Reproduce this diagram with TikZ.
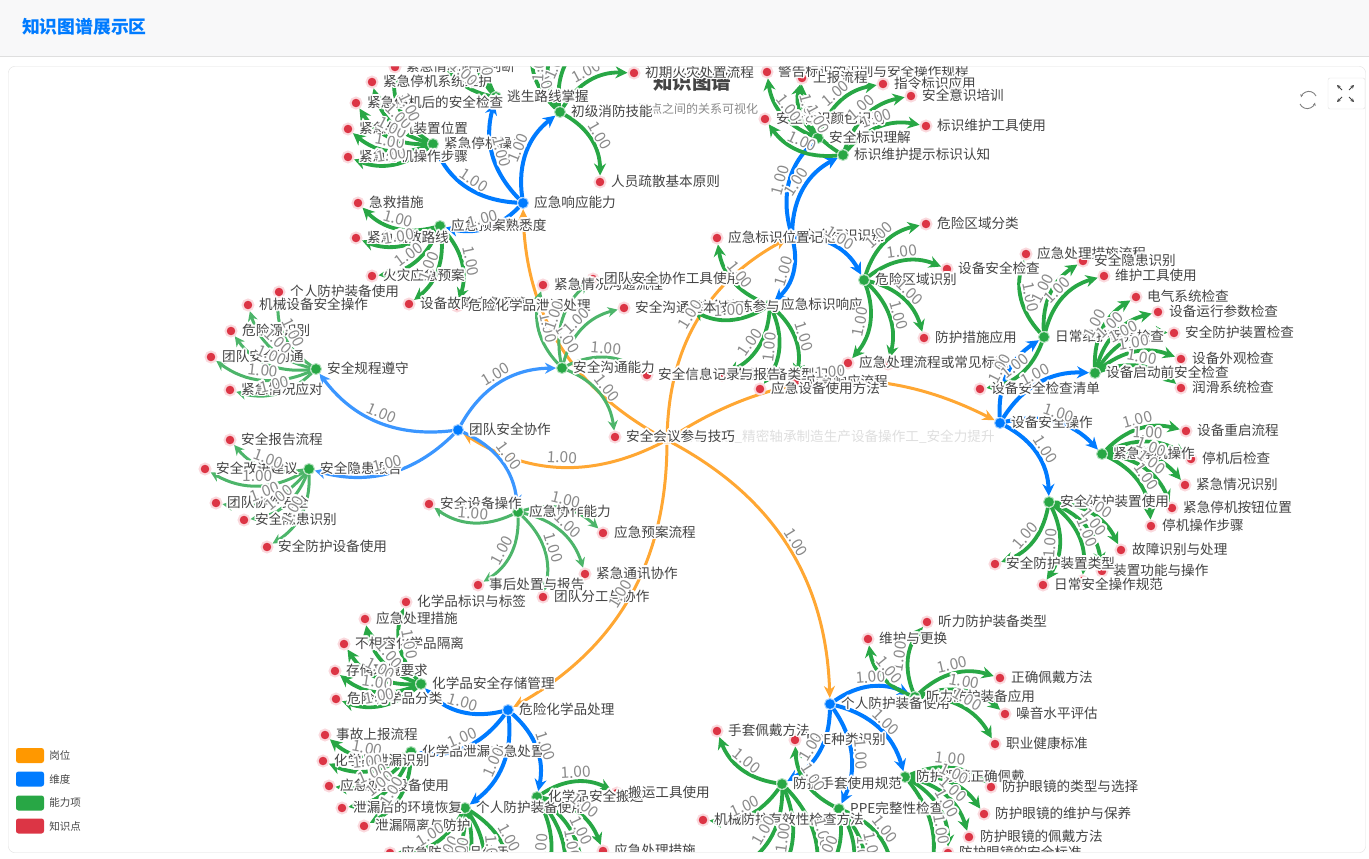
\documentclass[tikz,border=0pt]{standalone}
\usepackage{fontspec}
\usepackage[copies]{contour}
\setmainfont{Noto Sans CJK SC}
\usetikzlibrary{arrows.meta,positioning}
\contourlength{1.6pt}
\contournumber{16}
\definecolor{rootorange}{HTML}{FFA733}
\definecolor{legendorange}{HTML}{FF9800}
\definecolor{dimblue}{HTML}{007BFF}
\definecolor{teamblue}{HTML}{3B96FF}
\definecolor{abilitygreen}{HTML}{28A745}
\definecolor{teamgreen}{HTML}{4DB56A}
\definecolor{pointred}{HTML}{DC3545}
\definecolor{pointglow}{HTML}{FAD9DD}
\definecolor{labelgray}{HTML}{444444}
\definecolor{weightgray}{HTML}{8A8A8A}
\definecolor{headgray}{HTML}{F8F8F9}
\definecolor{bordergray}{HTML}{DFDFDF}
\pgfdeclarelayer{links}
\pgfsetlayers{links,main}
\tikzset{
  rootdot/.style={circle,fill=rootorange,opacity=.25,minimum size=10pt,inner sep=0pt},
  dimdot/.style={circle,fill=dimblue,minimum size=11pt,inner sep=0pt,draw=dimblue!35,line width=1pt},
  abilitydot/.style={circle,fill=abilitygreen,minimum size=11pt,inner sep=0pt,draw=abilitygreen!35,line width=1pt},
  pointdot/.style={circle,fill=pointred,minimum size=11pt,inner sep=0pt,draw=pointglow,line width=2pt},
  dottext/.style={text=labelgray,inner sep=0pt,font=\fontsize{13.6}{14}\selectfont,anchor=west},
  weight/.style={text=weightgray,inner sep=0pt,font=\fontsize{15.5}{16}\selectfont,midway,sloped,above=2pt},
  rootlink/.style={draw=rootorange,line width=3pt,-{Stealth[length=12pt,width=11pt]}},
  dimlink/.style={draw=dimblue,line width=4pt,-{Stealth[length=12pt,width=12pt]}},
  teamdimlink/.style={draw=teamblue,line width=3.2pt,-{Stealth[length=11pt,width=11pt]}},
  abilitylink/.style={draw=abilitygreen,line width=3.8pt,-{Stealth[length=12pt,width=12pt]}},
  teamlink/.style={draw=teamgreen,line width=3pt,-{Stealth[length=10pt,width=10pt]}},
  swatch/.style={rounded corners=2.5pt,minimum width=28pt,minimum height=15pt,inner sep=0pt},
  legendtext/.style={text=labelgray,font=\fontsize{10.5}{11}\selectfont,anchor=west,inner sep=0pt}
}
\newcommand{\drawlinks}[2]{%
  \foreach \src/\tgt in {#2}{%
    \begin{pgfonlayer}{links}
      \draw[#1] (\src) to[bend left=30] (\tgt);
    \end{pgfonlayer}
    \path (\src) to[bend left=30] node[weight]{\contour{white}{1.00}} (\tgt);
  }%
}
% dimensions
\def\dimlist{
  safeSign/792/236/安全标识识别,
  emgResp/523/203/应急响应能力,
  teamSafe/458/430/团队安全协作,
  devOp/1000/423/设备安全操作,
  chem/508/710/危险化学品处理,
  ppeUse/830/704/个人防护装备使用}
% ability items
\def\abilitylist{
  stopOp/433/144/紧急停机操作,
  escape/496/97/逃生路线掌握,
  fireSkill/560/112/初级消防技能,
  planKnow/440/226/应急预案熟悉度,
  ruleKeep/316/369/安全规程遵守,
  hazReport/309/469/安全隐患报告,
  coop/518/512/应急协作能力,
  comm/562/368/安全沟通能力,
  signRead/818/138/安全标识理解,
  signKeep/843/155/标识维护提示标识认知,
  zoneId/864/280/危险区域识别,
  signResp/770/305/应急标识响应,
  dailyCare/1044/337/日常维护保养检查,
  startCheck/1095/373/设备启动前安全检查,
  devStop/1102/454/紧急停机操作,
  guardUse/1049/502/安全防护装置使用,
  chemStore/421/684/化学品安全存储管理,
  chemLeak/411/752/化学品泄漏应急处置,
  chemPpe/465/808/个人防护装备使用,
  chemMove/537/797/化学品安全搬运,
  hearPpe/915/697/听力防护装备应用,
  glove/782/784/防护手套使用规范,
  ppeCheck/839/809/PPE完整性检查,
  goggle/905/777/防护眼镜正确佩戴}
% knowledge points
\def\pointlist{
  stopA/348/157/紧急停机操作步骤,
  stopB/348/129/紧急停机装置位置,
  stopC/356/103/紧急停机后的安全检查,
  stopD/372/82/紧急停机系统维护,
  stopE/395/67/紧急情况停机判断,
  fireA/634/73/初期火灾处置流程,
  fireB/600/182/人员疏散基本原则,
  planA/358/203/急救措施,
  planB/356/238/紧急疏散路线,
  planC/372/276/火灾应急预案,
  planD/409/304/设备故障应急预案,
  planE/457/306/危险化学品泄漏处理,
  ruleA/279/292/个人防护装备使用,
  ruleB/248/305/机械设备安全操作,
  ruleC/231/331/危险源识别,
  ruleD/211/357/团队安全沟通,
  ruleE/230/390/紧急情况应对,
  hazA/230/440/安全报告流程,
  hazB/205/469/安全改进建议,
  hazC/216/503/团队协作安全,
  hazD/244/520/安全隐患识别,
  hazE/267/547/安全防护设备使用,
  coopA/429/504/安全设备操作,
  coopB/603/533/应急预案流程,
  coopC/585/574/紧急通讯协作,
  coopD/478/585/事后处置与报告,
  coopE/543/597/团队分工与协作,
  respB/687/307/应急演练参与,
  commA/543/285/紧急情况沟通流程,
  commB/593/279/团队安全协作工具使用,
  commC/624/308/安全沟通基本技巧,
  respC/722/375/应急设备类型识别,
  commD/647/375/安全信息记录与报告,
  commE/615/437/安全会议参与技巧,
  signA/767/72/警告标识的识别与安全操作规程,
  signB/802/78/上报流程,
  signC/883/84/指令标识应用,
  signD/911/96/安全意识培训,
  signE/926/126/标识维护工具使用,
  signF/765/119/安全标识颜色识别,
  zoneA/926/224/危险区域分类,
  zoneB/947/269/设备安全检查,
  zoneC/924/338/防护措施应用,
  zoneD/848/363/应急处理流程或常见标识,
  respA/717/238/应急标识位置记忆,
  respD/795/382/应急响应流程,
  respE/760/389/应急设备使用方法,
  careA/1026/254/应急处理措施流程,
  careB/1083/261/安全隐患识别,
  careC/1104/276/维护工具使用,
  careD/980/389/设备安全检查清单,
  startA/1136/297/电气系统检查,
  startB/1158/312/设备运行参数检查,
  startC/1174/333/安全防护装置检查,
  startD/1181/359/设备外观检查,
  startE/1181/388/润滑系统检查,
  dstopA/1186/431/设备重启流程,
  dstopB/1191/459/停机后检查,
  dstopC/1185/485/紧急情况识别,
  dstopD/1172/508/紧急停机按钮位置,
  dstopE/1151/526/停机操作步骤,
  guardA/1121/550/故障识别与处理,
  guardB/1102/571/装置功能与操作,
  guardC/1043/585/日常安全操作规范,
  guardD/995/564/安全防护装置类型,
  storeA/406/602/化学品标识与标签,
  storeB/365/619/应急处理措施,
  storeC/344/644/不相容化学品隔离,
  storeD/335/671/存储环境要求,
  storeE/336/699/危险化学品分类,
  leakA/325/735/事故上报流程,
  leakB/323/761/化学品泄漏识别,
  leakC/329/786/应急处置设备使用,
  leakD/342/808/泄漏后的环境恢复,
  leakE/364/826/泄漏隔离与防护,
  cppeA/390/853/应急防护用品使用,
  moveA/617/793/搬运工具使用,
  moveB/603/851/应急处理措施,
  hearA/927/622/听力防护装备类型,
  hearB/868/639/维护与更换,
  hearC/1000/678/正确佩戴方法,
  hearD/1005/714/噪音水平评估,
  hearE/995/744/职业健康标准,
  gloveA/717/731/手套佩戴方法,
  gloveB/703/820/机械防护有效性检查方法,
  checkA/795/740/PPE种类识别,
  goggleA/991/787/防护眼镜的类型与选择,
  goggleB/984/814/防护眼镜的维护与保养,
  goggleC/969/837/防护眼镜的佩戴方法,
  goggleD/948/853/防护眼镜的安全标准}
\begin{document}
\begin{tikzpicture}[x=1pt,y=-1pt]
  \useasboundingbox (0,0) rectangle (1369,859);

  \node[font=\bfseries\fontsize{19.5}{20}\selectfont,text=labelgray] (chartTitle) at (692,82) {知识图谱};
  \node[font=\fontsize{12}{13}\selectfont,text=weightgray] (chartSub) at (692,109) {知识点之间的关系可视化};

  \node[rootdot] (root) at (667,440) {};
  \foreach \n/\x/\y/\t in \dimlist { \node[dimdot] (\n) at (\x,\y) {}; }
  \foreach \n/\x/\y/\t in \abilitylist { \node[abilitydot] (\n) at (\x,\y) {}; }
  \foreach \n/\x/\y/\t in \pointlist { \node[pointdot] (\n) at (\x,\y) {}; }
  % covered by other labels, no text of their own
  \foreach \n/\x/\y in {zoneE/888/364,guardE/1082/581}
    \node[pointdot] (\n) at (\x,\y) {};

  % ends below or above the panel
  \foreach \n/\x/\y in {escA/440/50,escB/480/30,escC/498/25,
    fireC/535/40,fireD/562/30,fireE/588/40,
    cppeB/425/885,cppeC/450/890,cppeD/475/890,cppeE/510/885,
    moveC/535/895,moveD/558/895,moveE/580/880,
    gloveC/738/868,gloveD/772/885,gloveE/812/890,
    checkB/812/885,checkC/843/890,checkD/860/890,checkE/892/872,
    goggleE/925/885}
    \coordinate (\n) at (\x,\y);

  \node[dottext,text=black!13] (rootText) at (680,437) {精密制造\_精密轴承制造生产设备操作工\_安全力提升};
  \foreach \n/\x/\y/\t in \dimlist { \node[dottext] (\n-text) at (\x+11,\y) {\contour{white}{\t}}; }
  \foreach \n/\x/\y/\t in \abilitylist { \node[dottext] (\n-text) at (\x+11,\y) {\contour{white}{\t}}; }
  \foreach \n/\x/\y/\t in \pointlist { \node[dottext] (\n-text) at (\x+11,\y) {\contour{white}{\t}}; }

  \drawlinks{rootlink}{root/teamSafe,root/emgResp,root/safeSign,root/devOp,root/chem,root/ppeUse}
  \drawlinks{dimlink}{emgResp/stopOp,emgResp/escape,emgResp/fireSkill,emgResp/planKnow,
    safeSign/signRead,safeSign/signKeep,safeSign/zoneId,safeSign/signResp,
    devOp/dailyCare,devOp/startCheck,devOp/devStop,devOp/guardUse,
    chem/chemStore,chem/chemLeak,chem/chemPpe,chem/chemMove,
    ppeUse/hearPpe,ppeUse/glove,ppeUse/ppeCheck,ppeUse/goggle}
  \drawlinks{teamdimlink}{teamSafe/ruleKeep,teamSafe/hazReport,teamSafe/coop,teamSafe/comm}
  \drawlinks{teamlink}{ruleKeep/ruleA,ruleKeep/ruleB,ruleKeep/ruleC,ruleKeep/ruleD,ruleKeep/ruleE,
    hazReport/hazA,hazReport/hazB,hazReport/hazC,hazReport/hazD,hazReport/hazE,
    coop/coopA,coop/coopB,coop/coopC,coop/coopD,coop/coopE,
    comm/commA,comm/commB,comm/commC,comm/commD,comm/commE}
  \drawlinks{abilitylink}{stopOp/stopA,stopOp/stopB,stopOp/stopC,stopOp/stopD,stopOp/stopE,
    escape/escA,escape/escB,escape/escC,
    fireSkill/fireA,fireSkill/fireB,fireSkill/fireC,fireSkill/fireD,fireSkill/fireE,
    planKnow/planA,planKnow/planB,planKnow/planC,planKnow/planD,planKnow/planE,
    signRead/signA,signRead/signB,signRead/signC,
    signKeep/signB,signKeep/signD,signKeep/signE,signKeep/signF,
    zoneId/zoneA,zoneId/zoneB,zoneId/zoneC,zoneId/zoneD,zoneId/zoneE,
    signResp/respA,signResp/respB,signResp/respC,signResp/respD,signResp/respE,
    dailyCare/careA,dailyCare/careB,dailyCare/careC,dailyCare/careD,
    startCheck/startA,startCheck/startB,startCheck/startC,startCheck/startD,startCheck/startE,
    devStop/dstopA,devStop/dstopB,devStop/dstopC,devStop/dstopD,devStop/dstopE,
    guardUse/guardA,guardUse/guardB,guardUse/guardC,guardUse/guardD,guardUse/guardE,
    chemStore/storeA,chemStore/storeB,chemStore/storeC,chemStore/storeD,chemStore/storeE,
    chemLeak/leakA,chemLeak/leakB,chemLeak/leakC,chemLeak/leakD,chemLeak/leakE,
    chemPpe/cppeA,chemPpe/cppeB,chemPpe/cppeC,chemPpe/cppeD,chemPpe/cppeE,
    chemMove/moveA,chemMove/moveB,chemMove/moveC,chemMove/moveD,chemMove/moveE,
    hearPpe/hearA,hearPpe/hearB,hearPpe/hearC,hearPpe/hearD,hearPpe/hearE,
    glove/gloveA,glove/gloveB,glove/gloveC,glove/gloveD,glove/gloveE,
    ppeCheck/checkA,ppeCheck/checkB,ppeCheck/checkC,ppeCheck/checkD,ppeCheck/checkE,
    goggle/goggleA,goggle/goggleB,goggle/goggleC,goggle/goggleD,goggle/goggleE}

  % header and the strip under the panel hide what runs past the panel
  \fill[white] (0,852) rectangle (1369,859);
  \fill[white] (0,57) rectangle (1369,66);
  \fill[headgray] (0,0) rectangle (1369,56);
  \draw[bordergray] (0,56.5) -- (1369,56.5);
  \node[font=\bfseries\fontsize{17.8}{18}\selectfont,text=dimblue,anchor=west,inner sep=0pt] (headTitle) at (22,27) {知识图谱展示区};
  \draw[bordergray,rounded corners=6pt] (8.5,66.5) rectangle (1365.5,852.5);

  \node[swatch,fill=legendorange] (legA) at (30,755.5) {};
  \node[swatch,fill=dimblue] (legB) at (30,779) {};
  \node[swatch,fill=abilitygreen] (legC) at (30,803) {};
  \node[swatch,fill=pointred] (legD) at (30,826) {};
  \node[legendtext,right=5pt of legA] {岗位};
  \node[legendtext,right=5pt of legB] {维度};
  \node[legendtext,right=5pt of legC] {能力项};
  \node[legendtext,right=5pt of legD] {知识点};

  % toolbar
  \draw[gray,line width=.9pt,-{Stealth[length=3pt,width=3pt]}] (1316,96) arc (-25:-165:8);
  \draw[gray,line width=.9pt,-{Stealth[length=3pt,width=3pt]}] (1300,104) arc (155:15:8);
  \draw[bordergray,fill=white,rounded corners=2pt] (1328,78) rectangle (1365,109);
  \foreach \xa/\ya/\xb/\yb in {1342/90/1337/85,1349/90/1354/85,1342/97/1337/102,1349/97/1354/102}
    \draw[labelgray,line width=.9pt,-{Stealth[length=3.5pt,width=3.5pt]}] (\xa,\ya) -- (\xb,\yb);
\end{tikzpicture}
\end{document}
